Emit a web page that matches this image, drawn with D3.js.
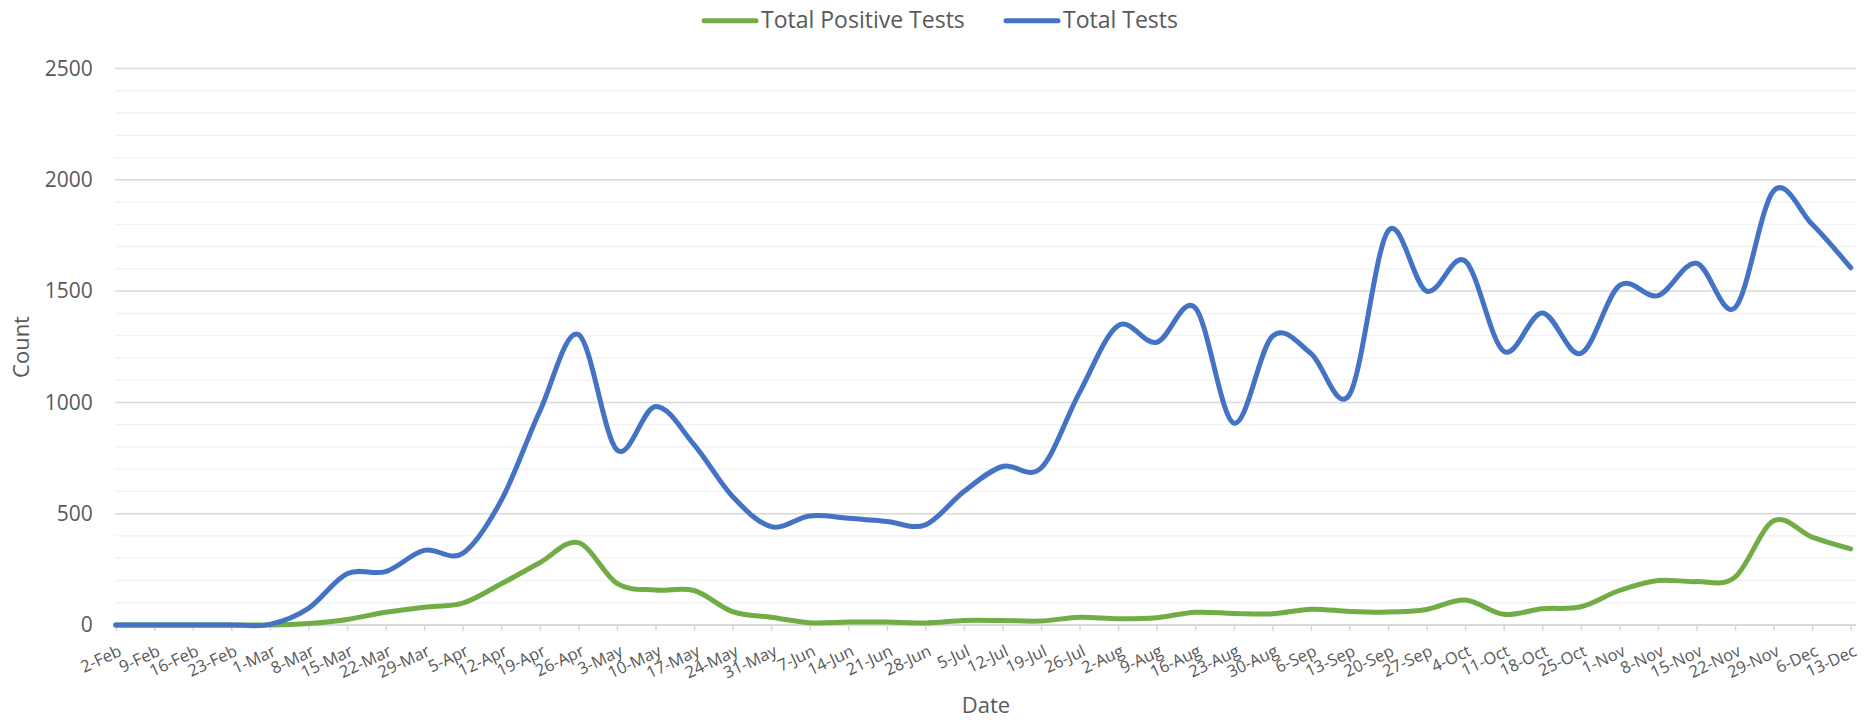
<!DOCTYPE html>
<html lang="en">
<head>
    <meta charset="UTF-8">
    <title>Tests</title>
    <style>
        body {
            margin: 0;
            background: #ffffff;
        }

        text {
            font-family: "Open Sans", sans-serif;
            fill: #595959;
        }
    </style>
</head>
<body>

<div id="chart"></div>

<script src="https://d3js.org/d3.v7.min.js"></script>

<script>
    // weekly dates
    var dates = ["2-Feb", "9-Feb", "16-Feb", "23-Feb", "1-Mar", "8-Mar", "15-Mar", "22-Mar", "29-Mar",
        "5-Apr", "12-Apr", "19-Apr", "26-Apr", "3-May", "10-May", "17-May", "24-May", "31-May",
        "7-Jun", "14-Jun", "21-Jun", "28-Jun", "5-Jul", "12-Jul", "19-Jul", "26-Jul",
        "2-Aug", "9-Aug", "16-Aug", "23-Aug", "30-Aug", "6-Sep", "13-Sep", "20-Sep", "27-Sep",
        "4-Oct", "11-Oct", "18-Oct", "25-Oct", "1-Nov", "8-Nov", "15-Nov", "22-Nov", "29-Nov",
        "6-Dec", "13-Dec"];

    var positiveTests = [0, 0, 0, 0, 0, 7, 25, 57, 80, 98, 185, 280, 370, 187, 157, 155, 60, 35,
        10, 13, 13, 9, 20, 20, 18, 35, 28, 33, 57, 52, 50, 71, 61, 58, 70, 112, 48, 73, 82,
        155, 200, 195, 215, 468, 395, 342];

    var totalTests = [0, 0, 0, 0, 3, 75, 230, 240, 335, 322, 560, 960, 1305, 787, 982, 810, 577, 442,
        490, 480, 465, 450, 600, 712, 705, 1045, 1345, 1270, 1425, 907, 1297, 1220, 1035, 1770, 1500,
        1635, 1230, 1402, 1220, 1525, 1480, 1625, 1425, 1950, 1800, 1605];

    var yTicks = [0, 500, 1000, 1500, 2000, 2500];

    var series = [
        {name: "Total Positive Tests", values: positiveTests, color: "#70AD47"},
        {name: "Total Tests", values: totalTests, color: "#4472C4"}
    ];

    var width = 1875;
    var height = 722;

    var svg = d3.select("#chart")
        .append("svg")
        .attr("width", width)
        .attr("height", height);

    var x = d3.scalePoint()
        .domain(dates)
        .range([115.7, 1850.7]);

    var y = d3.scaleLinear()
        .domain([0, 2500])
        .range([625, 68.5]);

    // gridlines, light every 100, darker every 500
    svg.append("g")
        .selectAll("line")
        .data(y.ticks(25))
        .enter()
        .append("line")
        .attr("x1", 115)
        .attr("x2", 1856)
        .attr("y1", function (d) { return y(d); })
        .attr("y2", function (d) { return y(d); })
        .attr("stroke", function (d) { return d % 500 === 0 ? "#D9D9D9" : "#F2F2F2"; })
        .attr("stroke-width", function (d) { return d % 500 === 0 ? 1.5 : 1.3; });

    // x axis
    var xAxis = svg.append("g")
        .attr("transform", "translate(0," + y(0) + ")")
        .call(d3.axisBottom(x).tickSizeOuter(0).tickSize(6));

    xAxis.select(".domain")
        .attr("stroke", "#D9D9D9")
        .attr("stroke-width", 2)
        .attr("d", "M115,0H1856");
    xAxis.selectAll(".tick line")
        .attr("stroke", "#D9D9D9")
        .attr("stroke-width", 1.5);
    xAxis.selectAll(".tick text")
        .attr("y", 0)
        .attr("dy", 0)
        .attr("text-anchor", "end")
        .attr("transform", "translate(6.5,30) rotate(-25)")
        .style("font-size", "16.5px")
        .style("fill", "#595959");

    // y axis labels
    var yAxis = svg.append("g")
        .attr("transform", "translate(115.7,0)")
        .call(d3.axisLeft(y).tickValues(yTicks).tickFormat(d3.format("d")).tickSize(0).tickPadding(23));

    yAxis.select(".domain").remove();
    yAxis.selectAll(".tick text")
        .style("font-size", "21px")
        .style("fill", "#595959");

    // lines
    var line = d3.line()
        .x(function (d, i) { return x(dates[i]); })
        .y(function (d) { return y(d); })
        .curve(d3.curveCardinal.tension(0));

    svg.append("g")
        .selectAll("path")
        .data(series)
        .enter()
        .append("path")
        .attr("d", function (d) { return line(d.values); })
        .attr("fill", "none")
        .attr("stroke", function (d) { return d.color; })
        .attr("stroke-width", 5)
        .attr("stroke-linecap", "round")
        .attr("stroke-linejoin", "round");

    // legend
    var legendX = [702, 1004];
    var legend = svg.append("g")
        .selectAll("g")
        .data(series)
        .enter()
        .append("g")
        .attr("transform", function (d, i) { return "translate(" + legendX[i] + ",0)"; });

    legend.append("line")
        .attr("x1", 2)
        .attr("x2", 54)
        .attr("y1", 20.7)
        .attr("y2", 20.7)
        .attr("stroke", function (d) { return d.color; })
        .attr("stroke-width", 5)
        .attr("stroke-linecap", "round");

    legend.append("text")
        .attr("x", 59)
        .attr("y", 28.3)
        .style("font-size", "23px")
        .text(function (d) { return d.name; });

    // axis titles
    svg.append("text")
        .attr("x", 986)
        .attr("y", 713)
        .attr("text-anchor", "middle")
        .style("font-size", "22px")
        .text("Date");

    svg.append("text")
        .attr("transform", "translate(29,347) rotate(-90)")
        .attr("text-anchor", "middle")
        .style("font-size", "22px")
        .text("Count");
</script>
</body>
</html>
